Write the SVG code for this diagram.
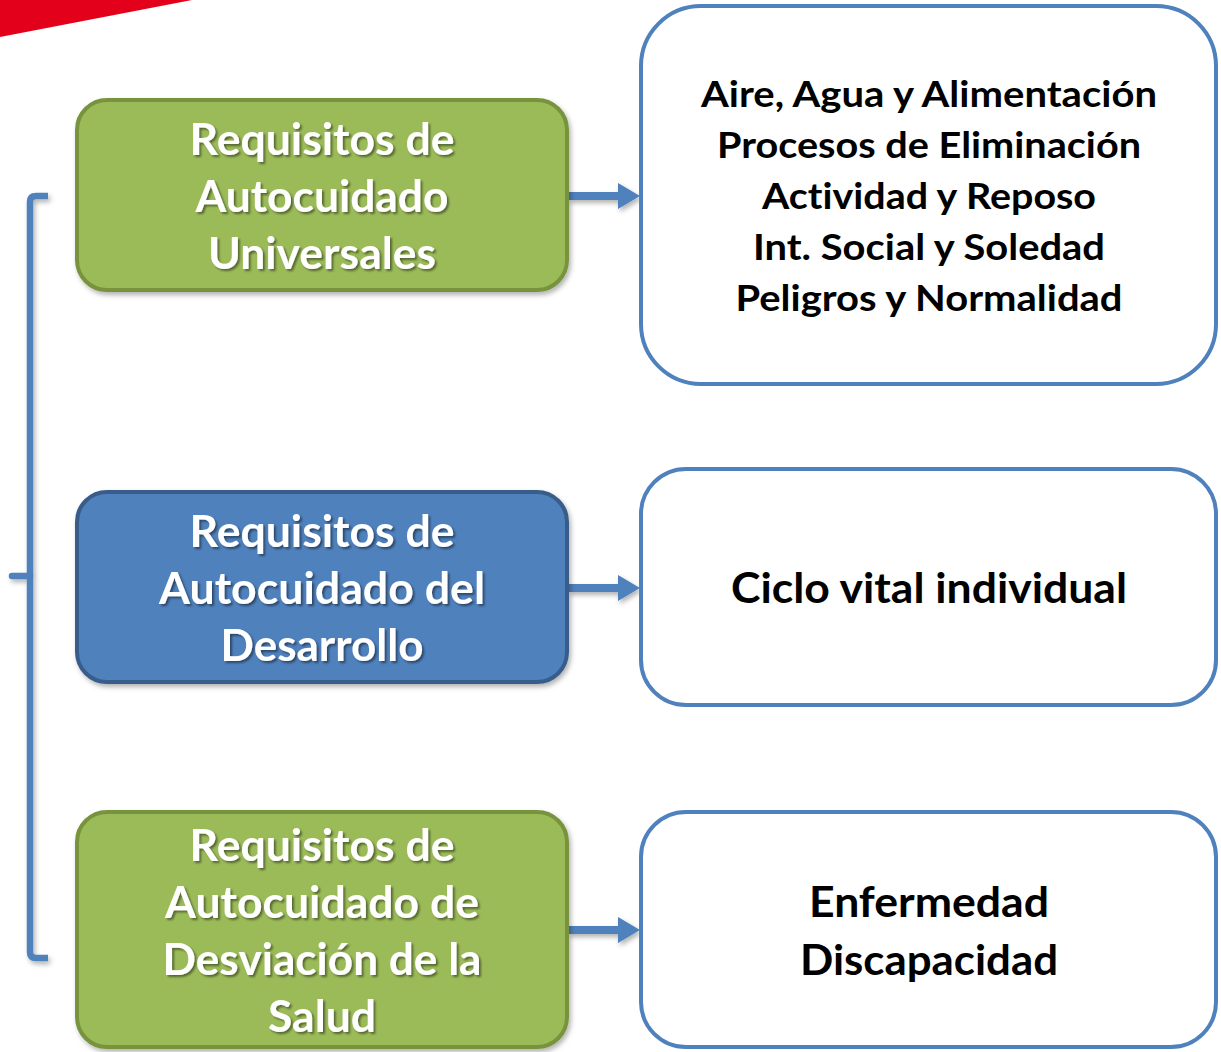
<svg xmlns="http://www.w3.org/2000/svg" width="1221" height="1052" viewBox="0 0 1221 1052">
<defs>
<filter id="ts" x="-10%" y="-30%" width="120%" height="160%"><feDropShadow dx="2" dy="2" stdDeviation="1.2" flood-color="#000" flood-opacity="0.45"/></filter>
<filter id="bs" x="-10%" y="-10%" width="120%" height="130%"><feDropShadow dx="2" dy="3" stdDeviation="2.5" flood-color="#000" flood-opacity="0.3"/></filter>
</defs>
<style>
text{font-variant-ligatures:none;font-feature-settings:"liga" 0}
.green{fill:#9BBB59;stroke:#77933C;stroke-width:4}
.blue{fill:#4F81BD;stroke:#385D8A;stroke-width:4}
.white{fill:#FFFFFF;stroke:#4F81BD;stroke-width:4}
.lt{font-family:Lato,"Open Sans",sans-serif;font-weight:bold;font-size:44px;fill:#FFFFFF;text-anchor:middle}
.rt{font-family:Lato,"Open Sans",sans-serif;font-weight:bold;font-size:36px;fill:#000000;text-anchor:middle}
.rb{font-family:Lato,"Open Sans",sans-serif;font-weight:bold;font-size:42px;fill:#000000;text-anchor:middle}
.conn{fill:none;stroke:#4F81BD;stroke-width:6.5}
.arr{fill:#4F81BD}
</style>
<polygon points="0,0 192,0 0,37" fill="#E2001A"/>
<g id="connectors" filter="url(#bs)">
<path class="conn" d="M48,196 L36,196 Q30,196 30,202 L30,952 Q30,958 36,958 L48,958" stroke-linecap="butt"/>
<path class="conn" d="M12,576 L30,576" stroke-linecap="round"/>
<path class="arr" d="M568,192 L618,192 L618,183 L640,196 L618,209 L618,200 L568,200 Z"/>
<path class="arr" d="M568,584 L618,584 L618,575 L640,588 L618,601 L618,592 L568,592 Z"/>
<path class="arr" d="M568,926 L618,926 L618,917 L640,930 L618,943 L618,934 L568,934 Z"/>
</g>
<g id="node-universales">
<rect class="green" x="77" y="100" width="490" height="190" rx="30" filter="url(#bs)"/>
<g filter="url(#ts)">
<text class="lt" x="322" y="155" textLength="265" lengthAdjust="spacingAndGlyphs">Requisitos de</text>
<text class="lt" x="322" y="212" textLength="253" lengthAdjust="spacingAndGlyphs">Autocuidado</text>
<text class="lt" x="322" y="269" textLength="228" lengthAdjust="spacingAndGlyphs">Universales</text>
</g>
</g>
<g id="node-desarrollo">
<rect class="blue" x="77" y="492" width="490" height="190" rx="30" filter="url(#bs)"/>
<g filter="url(#ts)">
<text class="lt" x="322" y="547" textLength="265" lengthAdjust="spacingAndGlyphs">Requisitos de</text>
<text class="lt" x="322" y="604" textLength="326" lengthAdjust="spacingAndGlyphs">Autocuidado del</text>
<text class="lt" x="322" y="661" textLength="203" lengthAdjust="spacingAndGlyphs">Desarrollo</text>
</g>
</g>
<g id="node-desviacion">
<rect class="green" x="77" y="812" width="490" height="235" rx="30" filter="url(#bs)"/>
<g filter="url(#ts)">
<text class="lt" x="322" y="861" textLength="265" lengthAdjust="spacingAndGlyphs">Requisitos de</text>
<text class="lt" x="322" y="918" textLength="314" lengthAdjust="spacingAndGlyphs">Autocuidado de</text>
<text class="lt" x="322" y="975" textLength="319" lengthAdjust="spacingAndGlyphs">Desviación de la</text>
<text class="lt" x="322" y="1032" textLength="108" lengthAdjust="spacingAndGlyphs">Salud</text>
</g>
</g>
<g id="node-lista-universales">
<rect class="white" x="641" y="6" width="575" height="378" rx="60"/>
<text class="rt" x="929" y="107" textLength="456" lengthAdjust="spacingAndGlyphs">Aire, Agua y Alimentación</text>
<text class="rt" x="929" y="158" textLength="424" lengthAdjust="spacingAndGlyphs">Procesos de Eliminación</text>
<text class="rt" x="929" y="209" textLength="334" lengthAdjust="spacingAndGlyphs">Actividad y Reposo</text>
<text class="rt" x="929" y="260" textLength="352" lengthAdjust="spacingAndGlyphs">Int. Social y Soledad</text>
<text class="rt" x="929" y="311" textLength="387" lengthAdjust="spacingAndGlyphs">Peligros y Normalidad</text>
</g>
<g id="node-ciclo">
<rect class="white" x="641" y="469" width="575" height="236" rx="45"/>
<text class="rb" x="929" y="603" textLength="396" lengthAdjust="spacingAndGlyphs">Ciclo vital individual</text>
</g>
<g id="node-enfermedad">
<rect class="white" x="641" y="812" width="575" height="235" rx="45"/>
<text class="rb" x="929" y="917" textLength="240" lengthAdjust="spacingAndGlyphs">Enfermedad</text>
<text class="rb" x="929" y="975" textLength="258" lengthAdjust="spacingAndGlyphs">Discapacidad</text>
</g>
</svg>
